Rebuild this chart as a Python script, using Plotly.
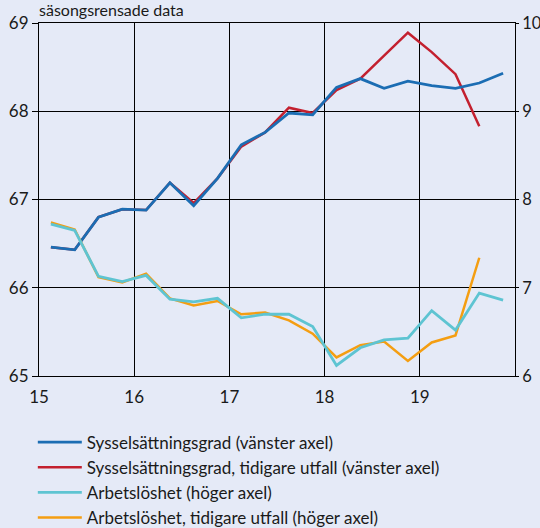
import plotly.graph_objects as go

quarters = ["2015Q1","2015Q2","2015Q3","2015Q4","2016Q1","2016Q2","2016Q3","2016Q4",
            "2017Q1","2017Q2","2017Q3","2017Q4","2018Q1","2018Q2","2018Q3","2018Q4",
            "2019Q1","2019Q2","2019Q3","2019Q4"]
syss = [66.46, 66.43, 66.80, 66.89, 66.88, 67.19, 66.93, 67.24, 67.62, 67.76,
        67.98, 67.96, 68.27, 68.37, 68.26, 68.34, 68.29, 68.26, 68.32, 68.43]
syss_old = [66.46, 66.43, 66.80, 66.89, 66.88, 67.19, 66.96, 67.24, 67.60, 67.76,
            68.04, 67.98, 68.24, 68.37, 68.63, 68.89, 68.67, 68.42, 67.83]
arb = [7.72, 7.65, 7.13, 7.07, 7.14, 6.87, 6.84, 6.88, 6.66, 6.70,
       6.70, 6.56, 6.12, 6.32, 6.41, 6.43, 6.74, 6.52, 6.94, 6.86]
arb_old = [7.74, 7.66, 7.12, 7.06, 7.16, 6.88, 6.80, 6.85, 6.70, 6.72,
           6.63, 6.48, 6.21, 6.35, 6.39, 6.17, 6.38, 6.46, 7.34]
xtick_vals = [15, 16, 17, 18, 19]
xtick_text = ["15", "16", "17", "18", "19"]

def qpos(q):
    y = int(q[2:4]); k = int(q[5])
    return y + (k - 0.5) / 4

x_all = [qpos(q) for q in quarters]

BLUE = "#1B6DB3"; RED = "#C3202F"; CYAN = "#5EC4D2"; ORANGE = "#F49E12"
BG = "#E5EAF7"
FONT = "Lato"

fig = go.Figure()
fig.add_trace(go.Scatter(x=x_all[:len(syss_old)], y=syss_old, mode="lines",
                         line=dict(color=RED, width=2.5),
                         name="Sysselsättningsgrad, tidigare utfall (vänster axel)", legendrank=2))
fig.add_trace(go.Scatter(x=x_all, y=syss, mode="lines",
                         line=dict(color=BLUE, width=2.8),
                         name="Sysselsättningsgrad (vänster axel)", legendrank=1))
fig.add_trace(go.Scatter(x=x_all[:len(arb_old)], y=arb_old, mode="lines", yaxis="y2",
                         line=dict(color=ORANGE, width=2.5),
                         name="Arbetslöshet, tidigare utfall (höger axel)", legendrank=4))
fig.add_trace(go.Scatter(x=x_all, y=arb, mode="lines", yaxis="y2",
                         line=dict(color=CYAN, width=2.8),
                         name="Arbetslöshet (höger axel)", legendrank=3))

fig.update_layout(
    template="none",
    width=540, height=528,
    margin=dict(l=39, r=25, t=23, b=152, autoexpand=False),
    paper_bgcolor=BG, plot_bgcolor=BG,
    font=dict(family=FONT, size=17, color="#1a1a1a"),
    showlegend=True,
    legend=dict(x=-0.013, y=-0.1375, xanchor="left", yanchor="top",
                bgcolor="rgba(0,0,0,0)", font=dict(size=17), tracegroupgap=0,
                itemwidth=44, borderwidth=0),
    xaxis=dict(range=[15, 20], tickvals=xtick_vals, ticktext=xtick_text,
               showgrid=True, gridcolor="black", gridwidth=1,
               showline=True, linecolor="black", linewidth=1, mirror=True,
               ticks="outside", ticklen=6, tickcolor="rgba(0,0,0,0)",
               zeroline=False, automargin=False),
    yaxis=dict(range=[65, 69], tickvals=[65, 66, 67, 68, 69],
               showgrid=True, gridcolor="black", gridwidth=1,
               showline=True, linecolor="black", linewidth=1, mirror=True,
               ticks="outside", ticklen=6, tickcolor="black",
               zeroline=False, automargin=False),
    yaxis2=dict(range=[6, 10], tickvals=[6, 7, 8, 9, 10], overlaying="y", side="right",
                showgrid=False, showline=False, ticks="outside", ticklen=3,
                tickcolor="black", zeroline=False, automargin=False,
                tickfont=dict(size=16.5)),
    annotations=[dict(text="säsongsrensade data", xref="paper", yref="paper",
                      x=0, y=1, xshift=-2, yshift=2, xanchor="left", yanchor="bottom",
                      showarrow=False, font=dict(size=16))],
)

fig.write_html("out.html", config={"displayModeBar": False},
               post_script="document.body.style.margin='0';document.body.style.background='" + BG + "';")
